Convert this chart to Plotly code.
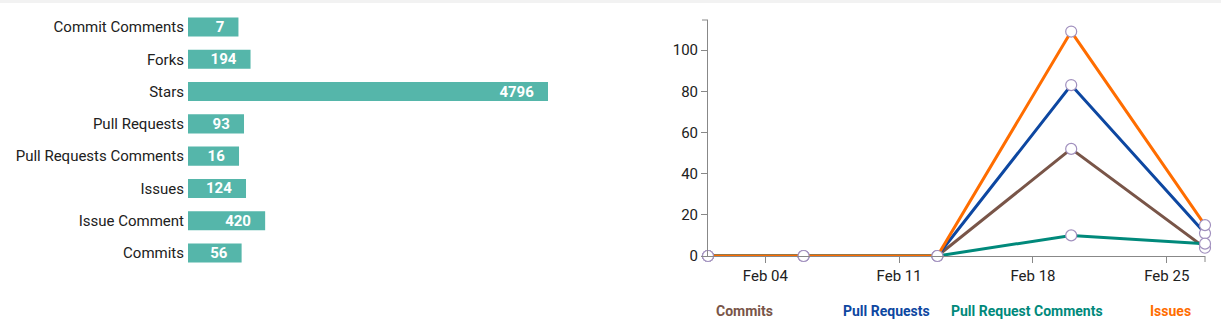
import plotly.graph_objects as go

# ---- data ----
bar_categories = ["Commit Comments", "Forks", "Stars", "Pull Requests",
                  "Pull Requests Comments", "Issues", "Issue Comment", "Commits"]
bar_values = [7, 194, 4796, 93, 16, 124, 420, 56]

dates = ["2018-02-01", "2018-02-06", "2018-02-13", "2018-02-20", "2018-02-27"]
series_names = ["Commits", "Pull Requests", "Pull Request Comments", "Issues"]
commits = [0, 0, 0, 52, 4]
pull_requests = [0, 0, 0, 83, 11]
pr_comments = [0, 0, 0, 10, 6]
issues = [0, 0, 0, 109, 15]
series_values = [commits, pull_requests, pr_comments, issues]
series_colors = ["#795548", "#0D47A1", "#00897B", "#FF6D00"]

x_tickvals = ["2018-02-04", "2018-02-11", "2018-02-18", "2018-02-25"]
x_ticktext = ["Feb 04", "Feb 11", "Feb 18", "Feb 25"]

W, H = 1221, 328
BAR_MIN = 773.5  # visual minimum bar length (style offset): bars start at -BAR_MIN, end at value

fig = go.Figure()

fig.add_trace(go.Bar(
    y=bar_categories, x=[v + BAR_MIN for v in bar_values],
    base=[-BAR_MIN] * len(bar_values),
    orientation="h", marker=dict(color="#55B6AA", line=dict(width=0)),
    text=[f"{v}\u00a0\u00a0\u00a0" for v in bar_values],
    textposition="inside", insidetextanchor="end", constraintext="none",
    textfont=dict(family="Roboto", size=15, color="white", weight="bold"),
    hoverinfo="skip", xaxis="x", yaxis="y", showlegend=False,
    cliponaxis=False,
))

for name, vals, col in zip(series_names, series_values, series_colors):
    fig.add_trace(go.Scatter(
        x=dates, y=vals, mode="lines+markers", name=name,
        line=dict(color=col, width=3),
        marker=dict(size=11, color="white", line=dict(color="#A190BE", width=1.2)),
        xaxis="x2", yaxis="y2", showlegend=False, cliponaxis=False,
    ))

annotations = []
legend_centers = [744, 886, 1027, 1170]
for name, col, cx in zip(series_names, series_colors, legend_centers):
    annotations.append(dict(
        text=f"<b>{name}</b>", x=cx / W, y=1 - 311 / H, xref="paper", yref="paper",
        showarrow=False, xanchor="center", yanchor="middle",
        font=dict(family="Roboto", size=14, color=col),
    ))

x2d = [708 / W, 1205 / W]
y2d = [1 - 256 / H, 1 - 20 / H]
shapes = [
    dict(type="rect", xref="paper", yref="paper", x0=0, x1=1, y0=1 - 3 / H, y1=1,
         fillcolor="#F2F2F2", line=dict(width=0), layer="below"),
    dict(type="line", xref="paper", yref="paper", x0=(708 - 6) / W, x1=708 / W,
         y0=y2d[1], y1=y2d[1], line=dict(color="#888888", width=1)),
    dict(type="line", xref="paper", yref="paper", x0=1205 / W, x1=1205 / W,
         y0=y2d[0], y1=y2d[0] - 6 / H, line=dict(color="#888888", width=1)),
]

fig.update_layout(
    width=W, height=H, autosize=False,
    margin=dict(l=0, r=0, t=0, b=0, pad=0),
    paper_bgcolor="white", plot_bgcolor="rgba(0,0,0,0)",
    font=dict(family="Roboto", size=15, color="#212121"),
    bargap=0.41,
    xaxis=dict(domain=[188 / W, 548 / W], range=[-BAR_MIN, 4796],
               visible=False, fixedrange=True),
    yaxis=dict(domain=[1 - 269.2 / H, 1 - 10.8 / H], autorange="reversed",
               showgrid=False, zeroline=False, showline=False, ticks="",
               ticklabelstandoff=3, automargin=False,
               tickfont=dict(family="Roboto", size=15, color="#212121")),
    xaxis2=dict(domain=x2d, anchor="y2", type="date",
                range=["2018-02-01", "2018-02-27"],
                tickvals=x_tickvals, ticktext=x_ticktext, automargin=False,
                showgrid=False, zeroline=False, showline=True, linecolor="#888888",
                linewidth=1, ticks="outside", ticklen=6, tickcolor="#888888",
                tickfont=dict(family="Roboto", size=15, color="#212121")),
    yaxis2=dict(domain=y2d, anchor="x2", range=[0, 114.6], automargin=False,
                tickvals=[0, 20, 40, 60, 80, 100],
                showgrid=False, zeroline=False, showline=True, linecolor="#888888",
                linewidth=1, ticks="outside", ticklen=6, tickcolor="#888888",
                tickfont=dict(family="Roboto", size=15, color="#212121")),
    annotations=annotations,
    shapes=shapes,
)

fig.write_html("out.html", config={"responsive": False})
